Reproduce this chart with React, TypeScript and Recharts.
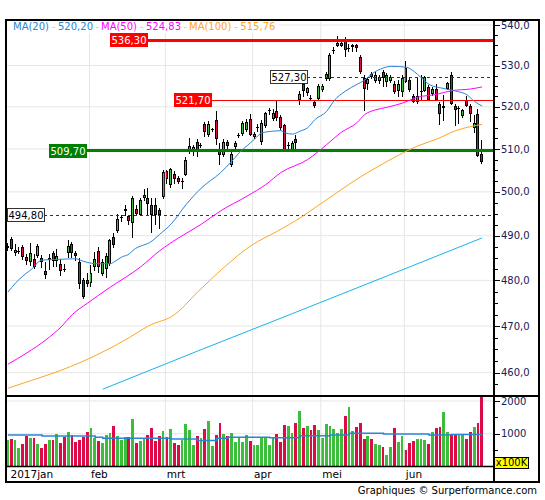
import React from 'react';
import { ComposedChart, Bar, Line, XAxis, YAxis, ReferenceLine, CartesianGrid } from 'recharts';

const FONT = '"DejaVu Sans", Verdana, sans-serif';
const UP = '#3cbe3c';
const DOWN = '#dc0a46';
const MA20_COLOR = '#2a84d6';
const MA50_COLOR = '#ff00ff';
const MA100_COLOR = '#ffa520';
const TREND_COLOR = '#19b2f0';
const GRID = '#e6e6e6';
const AXIS_TEXT = '#14205a';

// ---- categories (trading-day index) and month labels ----
const monthStarts = [0, 22, 42, 65, 83, 105];
const monthLabels = ['2017jan', 'feb', 'mrt', 'apr', 'mei', 'jun'];

// ---- daily OHLC ----
const opens = [487.3,489.2,486.0,486.3,487.5,485.1,484.0,484.8,485.4,485.0,
482.1,484.6,486.2,484.3,483.6,482.6,486.0,488.1,486.2,484.1,
480.0,480.0,479.5,483.0,486.5,481.4,482.5,483.6,489.6,491.1,
494.0,495.7,494.4,492.8,496.1,494.8,498.7,498.6,497.0,496.9,
495.9,498.8,504.9,501.7,504.1,503.3,502.2,504.0,509.5,509.6,
511.7,510.6,515.8,513.2,514.5,516.9,510.1,508.6,511.7,506.3,
510.4,513.1,513.6,514.4,517.2,512.8,514.9,511.6,515.5,519.0,
517.1,519.1,517.5,515.6,510.7,509.5,512.3,521.6,525.6,523.3,
522.2,521.2,521.9,524.0,526.8,526.8,533.5,534.8,534.8,536.2,
534.2,534.5,535.0,532.2,527.0,525.6,528.0,526.2,526.2,528.5,
526.0,526.3,525.6,523.8,523.6,529.3,526.5,522.7,521.2,523.5,
523.9,524.9,523.0,524.4,520.8,519.8,524.4,527.6,520.2,519.5,
517.8,521.6,520.1,515.0,518.4,508.7];

const highs = [488.4,489.8,488.1,487.5,487.9,485.9,488.4,485.9,488.2,485.6,
484.0,485.9,486.6,487.1,484.7,483.6,489.0,488.5,486.6,485.0,
480.5,481.6,483.4,486.3,487.5,484.8,486.0,489.3,490.7,494.9,
494.8,497.0,494.8,499.0,497.0,498.5,500.7,501.0,498.7,498.5,
496.4,505.1,505.1,505.6,504.8,503.6,503.1,508.0,512.6,511.0,
512.3,511.5,516.3,516.5,515.0,518.9,511.3,512.3,512.2,509.2,
511.9,513.8,516.7,517.0,518.3,514.0,516.0,516.8,518.8,519.8,
519.4,521.5,518.0,516.0,511.6,511.8,513.2,523.9,526.3,524.7,
522.8,521.6,525.6,525.5,528.5,533.0,534.5,537.3,536.0,536.9,
535.2,535.4,535.4,532.7,527.7,527.3,528.5,528.5,527.6,528.8,
528.3,527.6,526.3,526.4,527.7,531.2,527.0,523.2,527.1,527.6,
527.5,525.3,524.8,525.4,521.2,522.8,526.0,528.5,520.8,520.2,
519.6,522.6,520.6,518.1,519.4,512.2];

const lows = [486.5,486.5,485.4,485.8,484.6,483.5,483.2,482.6,484.9,482.8,
480.3,482.2,482.9,482.9,481.0,481.8,484.9,484.9,484.4,478.1,
476.0,478.6,478.5,482.1,481.7,481.0,480.6,483.2,487.3,490.6,
493.0,494.5,492.5,489.4,494.5,494.5,497.9,494.8,490.6,492.4,
491.5,498.4,501.9,501.0,501.8,501.9,500.7,503.6,508.7,508.4,
508.0,510.2,512.8,512.7,514.0,511.0,506.3,508.2,510.0,505.7,
509.5,512.6,513.1,514.0,513.0,512.4,514.0,511.0,515.0,518.0,
516.5,516.7,514.5,509.5,509.3,509.2,509.5,520.4,522.4,522.7,
521.3,519.8,521.5,523.5,526.3,526.3,532.8,534.5,534.5,532.2,
533.4,533.4,533.4,527.9,518.9,524.1,526.6,525.7,525.5,524.8,
524.8,525.8,523.0,522.4,522.4,525.8,523.5,521.0,520.8,521.6,
523.5,521.3,522.5,521.3,515.7,516.6,524.0,520.5,515.5,515.9,
517.3,520.0,516.4,513.8,508.2,506.5];

const closes = [487.6,487.0,486.7,486.5,485.1,484.4,486.2,483.0,487.7,484.1,
481.3,484.9,484.4,485.4,482.1,482.4,487.7,486.0,485.5,479.3,
476.4,479.3,481.7,484.8,483.0,484.0,485.4,489.0,488.0,493.7,
494.3,496.0,493.4,498.6,495.0,498.2,499.3,497.1,494.6,494.6,
494.8,504.5,503.0,505.3,503.0,502.3,502.5,507.4,510.8,510.4,
509.5,510.9,514.1,516.0,514.7,512.3,508.6,511.7,510.7,508.8,
511.4,513.3,516.1,516.4,513.4,513.6,515.3,516.1,518.5,519.2,
518.5,517.3,515.0,509.8,510.9,511.3,511.5,523.1,523.7,524.5,
521.9,520.2,525.1,525.1,528.0,532.7,533.7,535.6,535.6,533.7,
534.4,535.0,534.2,528.4,524.2,526.8,527.1,527.6,527.2,526.9,
527.6,527.1,523.5,525.6,527.0,526.0,524.0,521.2,522.7,523.8,
527.2,521.6,524.2,521.6,518.4,520.3,525.7,520.8,519.3,519.7,
519.3,520.2,518.4,516.1,508.4,507.0];

// ---- volume (x100K) and its average ----
const volumes = [807,837,807,571,684,929,877,859,684,571,
684,807,807,991,724,908,1052,960,755,807,
908,1052,1175,859,776,724,960,1012,1245,929,
807,890,890,1460,724,776,859,960,1184,776,
929,1083,908,1144,724,653,807,1288,1113,653,
929,859,1144,1390,623,960,1319,991,929,1012,
755,859,755,960,785,653,653,870,900,653,
890,991,755,1268,1240,1030,1340,1700,1165,1240,
1100,1268,1100,877,1300,1240,1155,1030,1155,1550,
1830,1090,1220,1330,840,929,840,684,653,592,
347,602,1175,755,929,500,715,776,840,840,
807,684,1052,1175,1200,1670,1050,1000,1000,1000,
1000,830,1050,1200,1340,2170];

const volumeAvg = [960,960,960,960,960,960,960,960,960,
929,929,929,929,929,929,929,929,929,929,929,929,929,929,
890,890,
859,859,859,859,859,859,859,859,859,859,859,859,859,859,859,859,859,859,
837,837,837,837,837,837,837,
795,795,795,795,795,
859,859,859,
895,895,895,895,895,895,895,895,895,895,895,
877,877,877,877,877,877,877,877,
940,940,940,940,940,940,940,940,
960,960,960,960,960,
1012,1012,1012,1012,1012,1012,1012,1012,1012,
991,991,991,991,991,991,991,991,991,991,991,991,
960,960,960,960,960,960,
975,975,975,975,975,975,975,975,975];

// ---- moving averages: [day index, value] ----
const ma20Points = [[0,477.4],[2,479.4],[4,481.0],[7,483.1],[8,484.1],[9,484.5],[14,484.7],[18,484.8],[19,484.5],[21,484.0],[23,483.7],[27,483.7],[28,484.1],[30,485.2],[32,485.9],[33,486.7],[38,488.8],[40,490.3],[43,492.6],[47,497.1],[51,500.9],[56,504.4],[59,507.1],[61,509.1],[64,511.5],[65,512.3],[67,513.8],[70,514.2],[72,514.3],[73,513.8],[75,513.5],[77,514.2],[79,515.0],[81,517.0],[84,518.9],[86,521.5],[89,523.8],[92,525.4],[94,526.4],[96,528.0],[99,529.4],[101,529.8],[105,529.6],[107,528.6],[109,527.0],[111,525.4],[115,524.4],[118,523.8],[121,522.9],[123,521.3],[125,520.2]];
const ma50Points = [[0,461.8],[5,464.2],[10,467.0],[14,469.8],[17,472.5],[21,475.0],[27,478.5],[35,483.0],[40,486.6],[45,489.5],[51,492.6],[56,495.6],[63,499.0],[68,501.7],[72,504.5],[79,507.5],[84,511.0],[88,514.0],[92,516.2],[94,518.1],[97,519.3],[100,519.9],[104,520.9],[108,522.3],[113,523.0],[117,523.9],[122,524.3],[125,524.8]];
const ma100Points = [[0,456.7],[6,458.3],[14,460.5],[24,464.0],[32,467.5],[37,470.0],[44,472.5],[50,477.4],[57,482.9],[64,487.7],[71,491.0],[77,494.0],[82,497.0],[87,500.0],[93,503.5],[99,506.6],[104,509.0],[108,510.7],[113,512.3],[118,514.3],[122,515.3],[125,515.8]];
const trendPoints = [[25,456.5],[50,464.6],[75,472.7],[100,481.0],[125,489.5]];

// ---- legend and price levels ----
const legendNames = ['MA(20)', 'MA(50)', 'MA(100)'];
const legendValues = ['520,20', '524,83', '515,76'];
const legendColors = [MA20_COLOR, MA50_COLOR, MA100_COLOR];

const levelValues = [536.3, 527.3, 521.7, 509.7, 494.8];
const levelStyles = [
  { color: '#ff0000', width: 3, dash: undefined, solid: true, labelLeft: 104 },
  { color: '#333333', width: 1, dash: '3 3', solid: false, labelLeft: 264 },
  { color: '#ff0000', width: 1, dash: undefined, solid: true, labelLeft: 168 },
  { color: '#008000', width: 3, dash: undefined, solid: true, labelLeft: 43 },
  { color: '#333333', width: 1, dash: '3 3', solid: false, labelLeft: 1 },
];

const priceTicks = [460, 470, 480, 490, 500, 510, 520, 530, 540];
const priceAxisTicks: number[] = [];
for (let v = 457.5; v <= 540; v += 2.5) priceAxisTicks.push(v);
const volumeTicks = [1000, 2000];
const volumeAxisTicks = [500, 1000, 1500, 2000];

// ---- table for the chart ----
const rows: any[] = opens.map((open, i) => ({
  i,
  open,
  high: highs[i],
  low: lows[i],
  close: closes[i],
  range: [lows[i], highs[i]],
  volume: volumes[i],
  volAvg: volumeAvg[i],
  ma20: null,
  ma50: null,
  ma100: null,
  trend: null,
}));
const place = (pts: number[][], key: string) => pts.forEach(([i, v]) => { rows[i][key] = v; });
place(ma20Points, 'ma20');
place(ma50Points, 'ma50');
place(ma100Points, 'ma100');
place(trendPoints, 'trend');

const fmt = (v: number, d: number) => v.toFixed(d).replace('.', ',');

const Candle = (props: any) => {
  const { x, y, width, height } = props;
  const d = props.payload || props;
  if (x == null || y == null || d == null || d.high == null) return null;
  const top = Math.min(y, y + height);
  const bot = Math.max(y, y + height);
  const lh = Math.log(d.high);
  const ll = Math.log(d.low);
  const span = lh - ll || 1;
  const py = (v: number) => top + ((bot - top) * (lh - Math.log(v))) / span;
  const c = Math.floor(x + width / 2);
  const up = d.close >= d.open;
  const yTop = Math.round(py(Math.max(d.open, d.close)));
  const yBot = Math.round(py(Math.min(d.open, d.close)));
  const bodyH = yBot - yTop;
  return (
    <g>
      <line x1={c + 0.5} x2={c + 0.5} y1={Math.round(top)} y2={Math.round(bot)} stroke="#000" strokeWidth={1} shapeRendering="crispEdges" />
      {bodyH < 2 ? (
        <rect x={c - 1} y={yTop} width={3} height={Math.max(bodyH, 1)} fill="#000" shapeRendering="crispEdges" />
      ) : (
        <rect x={c - 0.5} y={yTop + 0.5} width={2} height={bodyH - 1} fill={up ? UP : DOWN} stroke="#000" strokeWidth={1} shapeRendering="crispEdges" />
      )}
    </g>
  );
};

const VolumeBar = (props: any) => {
  const { x, y, width, height } = props;
  const d = props.payload || props;
  if (x == null || y == null || d == null) return null;
  const c = x + width / 2;
  const left = Math.round(c - 1.4);
  const right = Math.round(c + 1.4);
  const top = Math.round(Math.min(y, y + height));
  const bottom = Math.round(Math.max(y, y + height));
  return (
    <rect x={left} y={top} width={Math.max(right - left, 1)} height={Math.max(bottom - top, 0)} fill={d.close >= d.open ? UP : DOWN} shapeRendering="crispEdges" />
  );
};

const PriceTick = (props: any) => {
  const { x, y, payload } = props;
  const v = payload.value;
  const major = priceTicks.includes(v);
  const ax = x - 8;
  const yy = Math.round(y) + 0.5;
  return (
    <g>
      <line x1={ax} x2={ax + (major ? 6 : 4)} y1={yy} y2={yy} stroke="#000" strokeWidth={1} />
      {major && (
        <text x={ax + 7} y={y} dy="0.36em" fontSize={10} fontFamily={FONT} fill={AXIS_TEXT}>{fmt(v, 1)}</text>
      )}
    </g>
  );
};

const VolumeTick = (props: any) => {
  const { x, y, payload } = props;
  const v = payload.value;
  const major = volumeTicks.includes(v);
  const ax = x - 8;
  const yy = Math.round(y) + 0.5;
  return (
    <g>
      <line x1={ax} x2={ax + (major ? 6 : 4)} y1={yy} y2={yy} stroke="#000" strokeWidth={1} />
      {major && (
        <text x={ax + 7} y={y} dy="0.36em" fontSize={10} fontFamily={FONT} fill={AXIS_TEXT}>{String(v)}</text>
      )}
    </g>
  );
};

const DateTick = (props: any) => {
  const { x, y, payload } = props;
  const k = monthStarts.indexOf(payload.value);
  if (k < 0) return null;
  const tx = x - 1.9 + (k === 0 ? 4.5 : 1.5);
  return (
    <text x={tx} y={y + 3.2} fontSize={10.5} fontFamily={FONT} fill="#000" textAnchor="start">{monthLabels[k]}</text>
  );
};

const levelShape = (st: any, value: number) => (p: any) => {
  if (p.x1 == null || p.y1 == null) return null;
  const left = Math.min(p.x1, p.x2);
  const right = Math.max(p.x1, p.x2);
  const y1 = p.y1;
  const y = Math.round(y1) + 0.5;
  const bx = Math.round(left + st.labelLeft);
  const bw = 37;
  const bh = 13;
  const by = Math.round(y1 - bh / 2);
  return (
    <g>
      <line x1={bx + bw} x2={right} y1={y} y2={y} stroke={st.color} strokeWidth={st.width} strokeDasharray={st.dash} />
      <rect x={bx + 0.5} y={by + 0.5} width={bw} height={bh} fill={st.solid ? st.color : '#ffffff'} stroke={st.solid ? st.color : '#333333'} strokeWidth={1} />
      <text x={bx + bw / 2 + 0.5} y={by + bh / 2 + 0.5} dy="0.36em" textAnchor="middle" fontSize={10} fontFamily={FONT} fill={st.solid ? '#ffffff' : '#000000'}>{fmt(value, 2)}</text>
    </g>
  );
};

export default function App() {
  return (
    <div style={{ position: 'absolute', left: 0, top: 0, width: 545, height: 500, background: '#fff', fontFamily: FONT }}>
      <div style={{ position: 'absolute', left: 0, top: 0 }}>
        <ComposedChart width={545} height={500} data={rows} margin={{ top: 20, right: 6, bottom: 105, left: 6 }}>
          <CartesianGrid vertical={false} horizontalValues={priceTicks} stroke={GRID} />
          <XAxis dataKey="i" hide padding={{ left: 0, right: 10 }} />
          <YAxis
            orientation="right"
            scale="log"
            domain={[455.28, 541.25]}
            allowDataOverflow
            ticks={priceAxisTicks}
            interval={0}
            width={45}
            tickSize={6}
            tickMargin={2}
            tickLine={false}
            axisLine={false}
            tick={PriceTick}
          />
          {monthStarts.slice(1).map((m) => (
            <ReferenceLine key={'pm' + m} x={m} position="start" stroke={GRID} />
          ))}
          {levelValues.map((v, k) => (
            <ReferenceLine key={'lv' + k} y={v} shape={levelShape(levelStyles[k], v)} />
          ))}
          <Line dataKey="trend" type="linear" stroke={TREND_COLOR} strokeWidth={1} dot={false} connectNulls isAnimationActive={false} />
          <Line dataKey="ma100" type="monotone" stroke={MA100_COLOR} strokeWidth={1} dot={false} connectNulls isAnimationActive={false} />
          <Line dataKey="ma50" type="monotone" stroke={MA50_COLOR} strokeWidth={1} dot={false} connectNulls isAnimationActive={false} />
          <Line dataKey="ma20" type="monotone" stroke={MA20_COLOR} strokeWidth={1} dot={false} connectNulls isAnimationActive={false} />
          <Bar dataKey="range" barSize={3} shape={Candle} isAnimationActive={false} />
        </ComposedChart>
      </div>
      <div style={{ position: 'absolute', left: 0, top: 0 }}>
        <ComposedChart width={545} height={500} data={rows} margin={{ top: 397, right: 6, bottom: 17.5, left: 6 }}>
          <CartesianGrid vertical={false} horizontalValues={volumeTicks} stroke={GRID} />
          <XAxis
            dataKey="i"
            padding={{ left: 0, right: 10 }}
            ticks={monthStarts}
            interval={0}
            height={16}
            tickSize={6}
            tickMargin={2}
            tickLine={false}
            axisLine={false}
            tick={DateTick}
          />
          <YAxis
            orientation="right"
            domain={[0, 2122]}
            allowDataOverflow
            ticks={volumeAxisTicks}
            interval={0}
            width={45}
            tickSize={6}
            tickMargin={2}
            tickLine={false}
            axisLine={false}
            tick={VolumeTick}
          />
          {monthStarts.slice(1).map((m) => (
            <ReferenceLine key={'vm' + m} x={m} position="start" stroke={GRID} />
          ))}
          <Bar dataKey="volume" barSize={3} shape={VolumeBar} isAnimationActive={false} />
          <Line dataKey="volAvg" type="stepAfter" stroke={MA20_COLOR} strokeWidth={1.5} dot={false} isAnimationActive={false} />
        </ComposedChart>
      </div>
      <svg width={545} height={500} style={{ position: 'absolute', left: 0, top: 0, pointerEvents: 'none' }}>
        <rect x={6} y={20} width={533} height={462} fill="none" stroke="#000" strokeWidth={2} />
        <line x1={494} y1={20} x2={494} y2={482} stroke="#000" strokeWidth={2} />
        <line x1={6} y1={396} x2={539} y2={396} stroke="#000" strokeWidth={2} />
        <line x1={6} y1={466.5} x2={494} y2={466.5} stroke="#000" strokeWidth={1.5} />
      </svg>
      <div style={{ position: 'absolute', left: 7, top: 21, height: 12, paddingLeft: 6, paddingRight: 4, background: '#fff', display: 'flex', alignItems: 'center', fontSize: 10, lineHeight: '12px', whiteSpace: 'nowrap' }}>
        {legendNames.map((n, k) => (
          <React.Fragment key={n}>
            {k > 0 && <span style={{ color: '#cccccc', width: 8, textAlign: 'center' }}>-</span>}
            <span style={{ color: legendColors[k] }}>{n}</span>
            <span style={{ color: '#cccccc', width: 9, textAlign: 'center' }}>-</span>
            <span style={{ color: legendColors[k] }}>{legendValues[k]}</span>
          </React.Fragment>
        ))}
      </div>
      <div style={{ position: 'absolute', left: 494, top: 457, width: 33, height: 10, background: '#ffff00', border: '1px solid #000', fontSize: 10, lineHeight: '10px', color: '#000', textAlign: 'center', overflow: 'hidden' }}>x100K</div>
      <div style={{ position: 'absolute', left: 300, top: 485, width: 237, textAlign: 'right', fontSize: 10, lineHeight: '12px', color: '#000', whiteSpace: 'nowrap' }}>Graphiques © Surperformance.com</div>
    </div>
  );
}
